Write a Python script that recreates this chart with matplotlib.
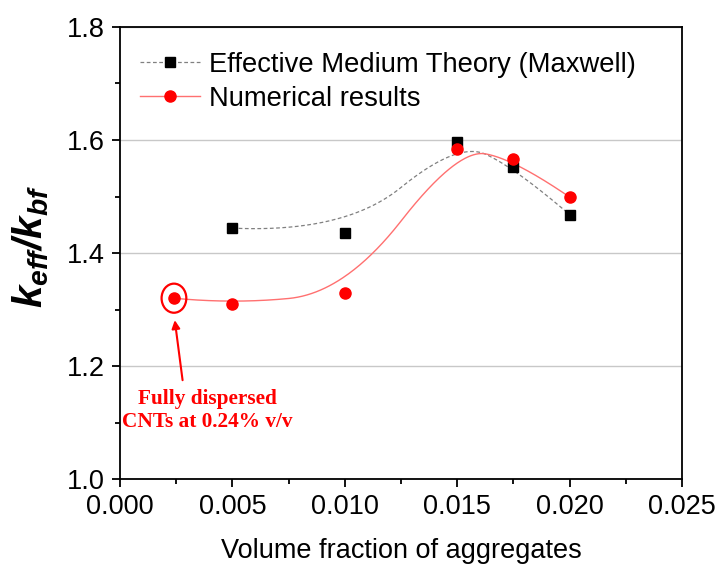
import matplotlib
matplotlib.use("Agg")
import matplotlib.pyplot as plt
import numpy as np
from matplotlib.patches import Ellipse
from matplotlib.ticker import MultipleLocator, FormatStrFormatter

plt.rcParams["font.family"] = ["Liberation Sans", "DejaVu Sans"]
plt.rcParams["mathtext.fontset"] = "custom"
plt.rcParams["mathtext.bfit"] = "Liberation Sans:bold:italic"
plt.rcParams["mathtext.it"] = "Liberation Sans:italic"
plt.rcParams["mathtext.rm"] = "Liberation Sans"

# data
emt_x = [0.005, 0.010, 0.015, 0.0175, 0.020]
emt_y = [1.444, 1.435, 1.597, 1.553, 1.468]
num_x = [0.0024, 0.005, 0.010, 0.015, 0.0175, 0.020]
num_y = [1.320, 1.310, 1.329, 1.584, 1.567, 1.499]
emt_label = "Effective Medium Theory (Maxwell)"
num_label = "Numerical results"
note = "Fully dispersed\nCNTs at 0.24% v/v"


def bspline(cx, cy, n=400, k=2):
    # clamped B-spline with the points as control points (Origin-style connector)
    cx, cy = np.asarray(cx), np.asarray(cy)
    m = len(cx)
    t = np.concatenate([np.zeros(k), np.linspace(0, 1, m - k + 1), np.ones(k)])
    u = np.linspace(0, 1 - 1e-9, n)

    def N(i, p):
        if p == 0:
            return ((t[i] <= u) & (u < t[i + 1])).astype(float)
        out = np.zeros_like(u)
        if t[i + p] != t[i]:
            out += (u - t[i]) / (t[i + p] - t[i]) * N(i, p - 1)
        if t[i + p + 1] != t[i + 1]:
            out += (t[i + p + 1] - u) / (t[i + p + 1] - t[i + 1]) * N(i + 1, p - 1)
        return out

    B = np.array([N(i, k) for i in range(m)])
    return B.T @ cx, B.T @ cy


fig = plt.figure(figsize=(7.18, 5.67), dpi=100)
ax = fig.add_axes([120 / 718, 88 / 567, 562 / 718, 452 / 567])

ax.yaxis.grid(True, color="#c8c8c8", lw=1.0)
ax.set_axisbelow(True)

bx, by = bspline(emt_x, emt_y)
ax.plot(bx, by, color="#808080", lw=0.9, ls=(0, (3, 2)))
rx, ry = bspline(num_x, num_y)
ax.plot(rx, ry, color="#ff7070", lw=1.0)

ax.plot(emt_x, emt_y, "s", color="black", ms=7.5, zorder=3)
ax.plot(num_x, num_y, "o", color="red", ms=8, zorder=4)

# legend proxies
h1, = ax.plot([], [], color="#808080", lw=0.9, ls=(0, (3, 2)), marker="s",
              mfc="black", mec="black", ms=7.5)
h2, = ax.plot([], [], color="#ff7070", lw=1.0, marker="o", mfc="red",
              mec="red", ms=8)
ax.legend([h1, h2], [emt_label, num_label], loc="upper left",
          bbox_to_anchor=(0.035, 0.945), frameon=False, fontsize=19.7,
          handlelength=2.2, handletextpad=0.35, borderpad=0,
          borderaxespad=0, labelspacing=0.3)

# annotation of the fully dispersed case
ax.add_patch(Ellipse((num_x[0], num_y[0]), 0.00110, 0.0515, fill=False,
                     ec="red", lw=1.6, zorder=5))
ax.annotate("", xy=(0.00242, 1.286), xytext=(0.00280, 1.170),
            arrowprops=dict(arrowstyle="-|>", color="red", lw=1.5,
                            mutation_scale=12))
ax.text(0.0039, 1.121, note, color="red", ha="center", va="center",
        fontsize=15.3, fontweight="bold", family="Liberation Serif",
        linespacing=1.2)

ax.set_xlim(0, 0.025)
ax.set_ylim(1.0, 1.8)
ax.xaxis.set_major_locator(MultipleLocator(0.005))
ax.xaxis.set_minor_locator(MultipleLocator(0.0025))
ax.yaxis.set_major_locator(MultipleLocator(0.2))
ax.yaxis.set_minor_locator(MultipleLocator(0.1))
ax.xaxis.set_major_formatter(FormatStrFormatter("%.3f"))
ax.yaxis.set_major_formatter(FormatStrFormatter("%.1f"))
ax.tick_params(which="major", direction="out", length=6, width=1.3,
               labelsize=19.5, pad=5, top=False, right=False)
ax.tick_params(which="minor", direction="out", length=3.5, width=1.3,
               top=False, right=False)
for s in ax.spines.values():
    s.set_linewidth(1.3)

ax.set_xlabel("Volume fraction of aggregates", fontsize=19.5, labelpad=13)
ax.set_ylabel(r"$\mathbfit{k_{eff}/k_{bf}}$", fontsize=29)
ax.yaxis.set_label_coords(-0.122, 0.514)

fig.savefig("out.png", dpi=100)
